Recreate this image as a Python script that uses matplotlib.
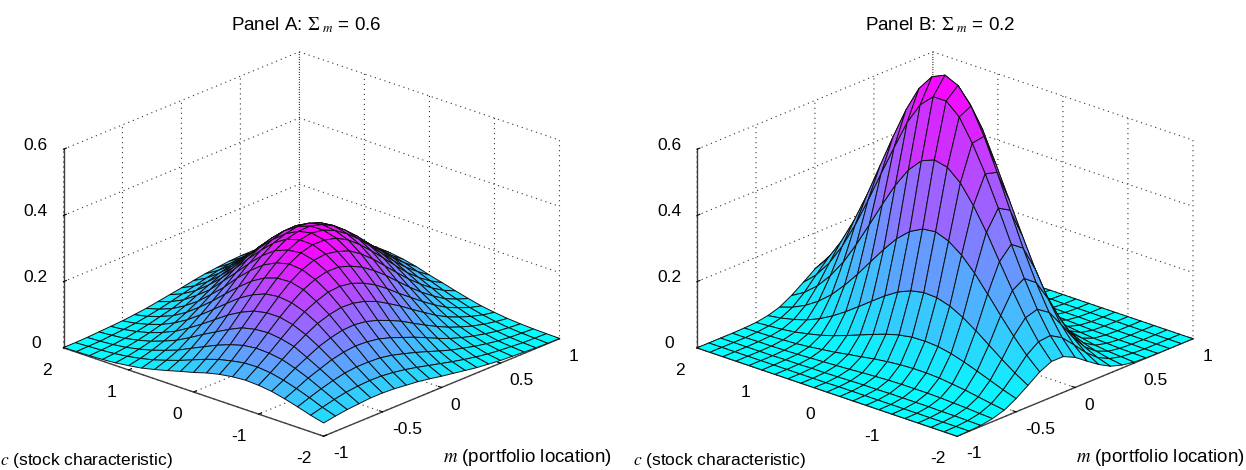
import matplotlib
matplotlib.use('Agg')
import matplotlib.pyplot as plt
import numpy as np

plt.rcParams['font.family'] = ['Liberation Sans', 'DejaVu Sans']
plt.rcParams['mathtext.fontset'] = 'stix'

# portfolio location (rows) and stock characteristic (columns)
m_vals = [-1.0, -0.9, -0.8, -0.7, -0.6, -0.5, -0.4, -0.3, -0.2, -0.1, 0.0,
          0.1, 0.2, 0.3, 0.4, 0.5, 0.6, 0.7, 0.8, 0.9, 1.0]
c_vals = [-2.0, -1.8, -1.6, -1.4, -1.2, -1.0, -0.8, -0.6, -0.4, -0.2, 0.0,
          0.2, 0.4, 0.6, 0.8, 1.0, 1.2, 1.4, 1.6, 1.8, 2.0]

# Panel A, heights
z_a = [
    [.040,.050,.062,.073,.082,.087,.089,.086,.080,.071,.059,.049,.038,.028,.019,.013,.008,.005,.003,.002,.001],
    [.046,.059,.075,.089,.101,.110,.114,.113,.106,.097,.084,.069,.054,.041,.029,.020,.013,.008,.005,.003,.001],
    [.051,.068,.087,.106,.122,.135,.141,.143,.138,.127,.112,.094,.076,.057,.043,.030,.020,.012,.007,.004,.002],
    [.054,.075,.097,.119,.140,.160,.170,.175,.172,.163,.145,.124,.103,.080,.059,.043,.029,.019,.011,.007,.004],
    [.057,.079,.105,.132,.158,.181,.198,.207,.207,.199,.182,.160,.133,.106,.081,.058,.041,.027,.017,.010,.006],
    [.057,.081,.109,.140,.170,.200,.222,.236,.241,.236,.220,.197,.167,.136,.106,.078,.055,.037,.024,.014,.008],
    [.055,.080,.109,.144,.178,.212,.239,.261,.271,.269,.256,.233,.202,.168,.133,.101,.072,.049,.033,.020,.012],
    [.051,.076,.107,.142,.180,.219,.252,.277,.293,.297,.287,.267,.237,.201,.160,.125,.091,.064,.042,.027,.016],
    [.047,.070,.100,.136,.175,.217,.255,.286,.307,.316,.311,.296,.267,.230,.189,.150,.111,.081,.054,.035,.022],
    [.041,.062,.090,.125,.164,.208,.249,.285,.311,.326,.327,.316,.291,.255,.215,.172,.132,.097,.067,.044,.028],
    [.034,.053,.079,.111,.149,.193,.235,.273,.304,.325,.333,.325,.304,.273,.235,.193,.149,.111,.079,.053,.034],
    [.028,.044,.067,.097,.132,.172,.215,.255,.291,.316,.327,.326,.311,.285,.249,.208,.164,.125,.090,.062,.041],
    [.022,.035,.054,.081,.111,.150,.189,.230,.267,.296,.311,.316,.307,.286,.255,.217,.175,.136,.100,.070,.047],
    [.016,.027,.042,.064,.091,.125,.160,.201,.237,.267,.287,.297,.293,.277,.252,.219,.180,.142,.107,.076,.051],
    [.012,.020,.033,.049,.072,.101,.133,.168,.202,.233,.256,.269,.271,.261,.239,.212,.178,.144,.109,.080,.055],
    [.008,.014,.024,.037,.055,.078,.106,.136,.167,.197,.220,.236,.241,.236,.222,.200,.170,.140,.109,.081,.057],
    [.006,.010,.017,.027,.041,.058,.081,.106,.133,.160,.182,.199,.207,.207,.198,.181,.158,.132,.105,.079,.057],
    [.004,.007,.011,.019,.029,.043,.059,.080,.103,.124,.145,.163,.172,.175,.170,.160,.140,.119,.097,.075,.054],
    [.002,.004,.007,.012,.020,.030,.043,.057,.076,.094,.112,.127,.138,.143,.141,.135,.122,.106,.087,.068,.051],
    [.001,.003,.005,.008,.013,.020,.029,.041,.054,.069,.084,.097,.106,.113,.114,.110,.101,.089,.075,.059,.046],
    [.001,.002,.003,.005,.008,.013,.019,.028,.038,.049,.059,.071,.080,.086,.089,.087,.082,.073,.062,.050,.040],
]

# Panel B, heights
z_b = [
    [.000,.000,.000,.000,.000,.000,.000,.000,.000,.000,.000,.000,.000,.000,.000,.000,.000,.000,.000,.000,.000],
    [.001,.001,.001,.001,.001,.001,.001,.001,.001,.001,.001,.000,.000,.000,.000,.000,.000,.000,.000,.000,.000],
    [.003,.004,.005,.005,.006,.006,.006,.006,.005,.005,.004,.003,.002,.002,.001,.001,.000,.000,.000,.000,.000],
    [.009,.011,.014,.016,.018,.019,.019,.019,.018,.016,.014,.011,.009,.007,.005,.003,.002,.001,.001,.000,.000],
    [.020,.026,.033,.040,.045,.050,.052,.052,.050,.046,.041,.034,.028,.021,.016,.011,.007,.005,.003,.002,.001],
    [.040,.053,.068,.083,.097,.109,.117,.120,.119,.112,.101,.087,.072,.057,.043,.031,.022,.014,.009,.006,.003],
    [.065,.089,.117,.147,.177,.204,.225,.237,.239,.231,.214,.189,.160,.130,.101,.075,.053,.036,.024,.015,.009],
    [.091,.128,.172,.221,.273,.323,.364,.393,.408,.403,.382,.347,.301,.251,.200,.153,.111,.078,.052,.033,.020],
    [.108,.154,.213,.282,.356,.432,.499,.554,.588,.597,.581,.540,.481,.410,.335,.262,.195,.140,.096,.063,.040],
    [.108,.158,.224,.304,.394,.490,.580,.659,.725,.760,.760,.722,.656,.567,.475,.381,.292,.214,.150,.101,.065],
    [.091,.137,.200,.277,.368,.469,.570,.665,.743,.792,.810,.792,.743,.665,.570,.469,.368,.277,.200,.137,.091],
    [.065,.101,.150,.214,.292,.381,.475,.567,.656,.722,.760,.760,.725,.659,.580,.490,.394,.304,.224,.158,.108],
    [.040,.063,.096,.140,.195,.262,.335,.410,.481,.540,.581,.597,.588,.554,.499,.432,.356,.282,.213,.154,.108],
    [.020,.033,.052,.078,.111,.153,.200,.251,.301,.347,.382,.403,.408,.393,.364,.323,.273,.221,.172,.128,.091],
    [.009,.015,.024,.036,.053,.075,.101,.130,.160,.189,.214,.231,.239,.237,.225,.204,.177,.147,.117,.089,.065],
    [.003,.006,.009,.014,.022,.031,.043,.057,.072,.087,.101,.112,.119,.120,.117,.109,.097,.083,.068,.053,.040],
    [.001,.002,.003,.005,.007,.011,.016,.021,.028,.034,.041,.046,.050,.052,.052,.050,.045,.040,.033,.026,.020],
    [.000,.000,.001,.001,.002,.003,.005,.007,.009,.011,.014,.016,.018,.019,.019,.019,.018,.016,.014,.011,.009],
    [.000,.000,.000,.000,.000,.001,.001,.002,.002,.003,.004,.005,.005,.006,.006,.006,.006,.005,.005,.004,.003],
    [.000,.000,.000,.000,.000,.000,.000,.000,.000,.000,.001,.001,.001,.001,.001,.001,.001,.001,.001,.001,.001],
    [.000,.000,.000,.000,.000,.000,.000,.000,.000,.000,.000,.000,.000,.000,.000,.000,.000,.000,.000,.000,.000],
]

m_ticks = [-1, -0.5, 0, 0.5, 1]
m_labels = ['-1', '-0.5', '0', '0.5', '1']
c_ticks = [-2, -1, 0, 1, 2]
c_labels = ['-2', '-1', '0', '1', '2']
z_ticks = [0, 0.2, 0.4, 0.6]
z_labels = ['0', '0.2', '0.4', '0.6']

W, H = 1246, 470
fig = plt.figure(figsize=(W / 100, H / 100), dpi=100)


def panel(z, left, title, title_x, lab_c_x, lab_m_x):
    size = 525
    ax = fig.add_axes([left / W, -43.6 / H, size / W, size / H],
                      projection='3d', proj_type='ortho', facecolor='none')
    ax.set_box_aspect((1, 1, 0.61))
    ax.view_init(elev=22, azim=-137.8)
    ax.set_xlim(-1, 1, view_margin=0)
    ax.set_ylim(-2, 2, view_margin=0)
    ax.set_zlim(0, 0.6, view_margin=0)

    M, C = np.meshgrid(m_vals, c_vals, indexing='ij')
    Z = np.array(z)
    ax.plot_surface(M, C, Z, cmap='cool', vmin=0, vmax=Z.max(), rstride=1, cstride=1,
                    edgecolor='#101010', linewidth=0.7, antialiased=True, shade=False)

    ax.set_xticks(m_ticks, m_labels, ha='left')
    ax.set_yticks(c_ticks, c_labels, ha='right')
    ax.set_zticks(z_ticks, z_labels, va='baseline')
    ax.tick_params(labelsize=12.5, pad=3)
    ax.tick_params(axis='x', pad=-1)
    ax.tick_params(axis='y', pad=2)
    for axis in (ax.xaxis, ax.yaxis, ax.zaxis):
        axis.set_pane_color((1, 1, 1, 0))
        axis.pane.set_edgecolor('none')
        axis.line.set_color('#404040')
        axis.line.set_linewidth(1.0)
        axis._axinfo['grid'].update(color='#333333', linewidth=0.8, linestyle=(0, (1, 3.5)))
        axis._axinfo['tick']['inward_factor'] = 0.0
        axis._axinfo['tick']['outward_factor'] = 0.15

    fig.text(title_x / W, 1 - 25 / H, title, fontsize=13.5, ha='center', va='center')
    fig.text(lab_c_x / W, 1 - 460 / H, r'$c$ (stock characteristic)', fontsize=12.5, va='center')
    fig.text(lab_m_x / W, 1 - 457 / H, r'$m$ (portfolio location)', fontsize=13.5, va='center')
    return ax


panel(z_a, 41.9, r'Panel A: $\Sigma_{\ m}$ = 0.6', 306, 0, 443)
panel(z_b, 675.4, r'Panel B: $\Sigma_{\ m}$ = 0.2', 940, 633, 1076)

fig.savefig('out.png', dpi=100)
